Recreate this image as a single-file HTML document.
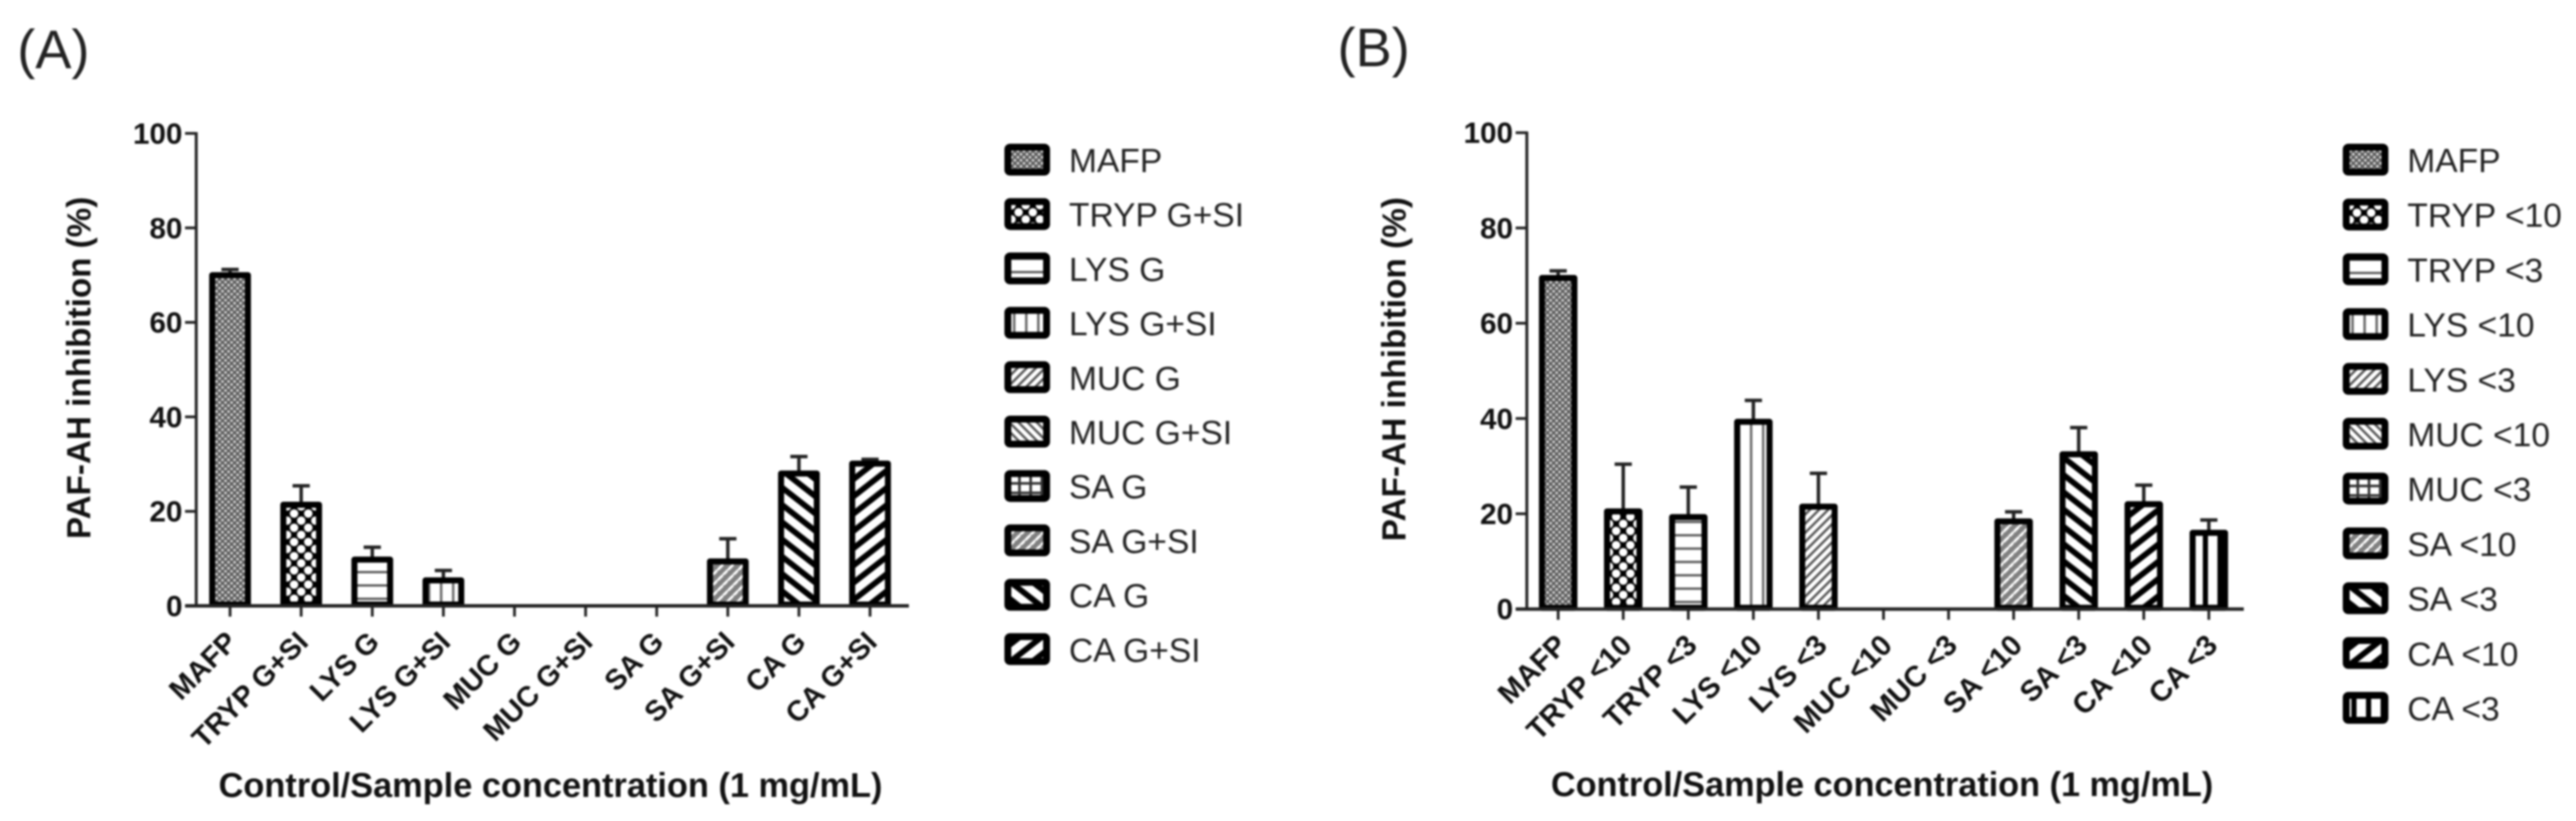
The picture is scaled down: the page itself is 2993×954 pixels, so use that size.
<!DOCTYPE html>
<html lang="en">
<head>
<meta charset="utf-8">
<title>PAF-AH inhibition charts</title>
<style>
html,body{margin:0;padding:0;background:#fff;width:2993px;height:954px;overflow:hidden}
svg{display:block;filter:blur(1.1px)}
text{font-family:"Liberation Sans",sans-serif}
.bold{font-weight:700;fill:#111}
.legend-text{font-size:39px;fill:#222}
</style>
</head>
<body>
<svg id="figure" xmlns="http://www.w3.org/2000/svg" width="2993" height="954" viewBox="0 0 2993 954">
<defs>
<pattern id="pat-fine-dots" patternUnits="userSpaceOnUse" width="7" height="7"><rect width="7" height="7" fill="#5e5e5e"/><circle cx="1.75" cy="1.75" r="1.5" fill="#e4e4e4"/><circle cx="5.25" cy="5.25" r="1.5" fill="#e4e4e4"/></pattern>
<pattern id="pat-checker" patternUnits="userSpaceOnUse" width="16.5" height="16.5"><rect width="16.5" height="16.5" fill="#000"/><circle cx="0" cy="0" r="4.9" fill="#fff"/><circle cx="16.5" cy="0" r="4.9" fill="#fff"/><circle cx="0" cy="16.5" r="4.9" fill="#fff"/><circle cx="16.5" cy="16.5" r="4.9" fill="#fff"/><circle cx="8.25" cy="8.25" r="4.9" fill="#fff"/></pattern>
<pattern id="pat-hlines" patternUnits="userSpaceOnUse" width="10" height="15.5"><rect width="10" height="15.5" fill="#fff"/><rect y="6" width="10" height="2.6" fill="#555"/></pattern>
<pattern id="pat-vlines" patternUnits="userSpaceOnUse" width="14" height="10" x="-4"><rect width="14" height="10" fill="#fff"/><rect x="0" width="2.8" height="10" fill="#666"/></pattern>
<pattern id="pat-diag-up" patternUnits="userSpaceOnUse" width="7.5" height="7.5" patternTransform="rotate(-45)"><rect width="7.5" height="7.5" fill="#fff"/><rect width="7.5" height="2.8" fill="#555"/></pattern>
<pattern id="pat-diag-down" patternUnits="userSpaceOnUse" width="7.5" height="7.5" patternTransform="rotate(45)"><rect width="7.5" height="7.5" fill="#fff"/><rect width="7.5" height="2.8" fill="#555"/></pattern>
<pattern id="pat-grid" patternUnits="userSpaceOnUse" width="13" height="11"><rect width="13" height="11" fill="#fff"/><rect x="3" width="3" height="11" fill="#333"/><rect y="3" width="13" height="3" fill="#333"/></pattern>
<pattern id="pat-dense" patternUnits="userSpaceOnUse" width="12" height="12"><rect width="12" height="12" fill="#808080"/><path d="M1 5.5L5.5 1M7 11.5L11.5 7" stroke="#fff" stroke-width="3" stroke-linecap="round"/></pattern>
<pattern id="pat-bold-down" patternUnits="userSpaceOnUse" width="15.8" height="15.8" patternTransform="rotate(38)"><rect width="15.8" height="15.8" fill="#000"/><rect y="2" width="15.8" height="9" fill="#fff"/></pattern>
<pattern id="pat-bold-up" patternUnits="userSpaceOnUse" width="15.8" height="15.8" patternTransform="rotate(-38)"><rect width="15.8" height="15.8" fill="#000"/><rect y="2" width="15.8" height="9" fill="#fff"/></pattern>
<pattern id="pat-bold-v" patternUnits="userSpaceOnUse" width="17" height="10" x="-7"><rect width="17" height="10" fill="#fff"/><rect x="0" width="6" height="10" fill="#000"/></pattern>
</defs>
<text x="20" y="79" font-size="63" fill="#222">(A)</text>
<text x="1554" y="77" font-size="63" fill="#222">(B)</text>
<text class="bold" font-size="38.6" text-anchor="middle" transform="translate(105,427.5) rotate(-90)">PAF-AH inhibition (%)</text>
<text class="bold" font-size="38.8" text-anchor="middle" transform="translate(1633,429) rotate(-90)">PAF-AH inhibition (%)</text>
<text class="bold" font-size="39.9" x="254" y="926">Control/Sample concentration (1 mg/mL)</text>
<text class="bold" font-size="39.8" x="1802" y="925">Control/Sample concentration (1 mg/mL)</text>
<g id="panel-a"></g>
<g id="panel-b"></g>
</svg>
<script>
const yTickLabels = [0, 20, 40, 60, 80, 100];

const panelACategories = ["MAFP", "TRYP G+SI", "LYS G", "LYS G+SI", "MUC G", "MUC G+SI", "SA G", "SA G+SI", "CA G", "CA G+SI"];
const panelAValues = [70, 21.4, 9.8, 5.4, 0, 0, 0, 9.4, 28, 30.1];
const panelAErrors = [1.2, 4, 2.6, 2.1, 0, 0, 0, 4.8, 3.6, 0.9];

const panelBCategories = ["MAFP", "TRYP <10", "TRYP <3", "LYS <10", "LYS <3", "MUC <10", "MUC <3", "SA <10", "SA <3", "CA <10", "CA <3"];
const panelBValues = [69.5, 20.5, 19.3, 39.3, 21.5, 0, 0, 18.4, 32.5, 22, 16];
const panelBErrors = [1.5, 9.9, 6.3, 4.5, 7, 0, 0, 2, 5.6, 4, 2.7];

const panelAFills = ["pat-fine-dots", "pat-checker", "pat-hlines", "pat-vlines", "pat-diag-up", "pat-diag-down", "pat-grid", "pat-dense", "pat-bold-down", "pat-bold-up"];
const panelBFills = ["pat-fine-dots", "pat-checker", "pat-hlines", "pat-vlines", "pat-diag-up", "pat-diag-down", "pat-grid", "pat-dense", "pat-bold-down", "pat-bold-up", "pat-bold-v"];

function xScaleA(i) { return 267.3 + i * 82.62; }
function yScaleA(v) { return 704 - v * 5.49; }
function xScaleB(i) { return 1810.4 + i * 75.6; }
function yScaleB(v) { return 707.7 - v * 5.535; }

const SVG_NS = "http://www.w3.org/2000/svg";
function make(tag, attrs, parent) {
  const el = document.createElementNS(SVG_NS, tag);
  for (const k in attrs) el.setAttribute(k, attrs[k]);
  parent.appendChild(el);
  return el;
}
function slug(s) {
  return s.toLowerCase().replace(/\+/g, "-plus-").replace(/</g, "under-").replace(/[^a-z0-9-]+/g, "-");
}

function drawPanel(root, prefix, cats, vals, errs, fills, xs, ys, o) {
  const y0 = ys(0);
  const half = o.barW / 2;

  cats.forEach(function (cat, i) {
    const cx = xs(i);
    const id = slug(cat);
    const tick = make("line", { x1: cx, x2: cx, y1: y0, y2: y0 + 12.5, stroke: "#222", "stroke-width": 3.2 }, root);
    
    

    const label = make("text", { "class": "bold", "font-size": o.catSize, "text-anchor": "end", transform: "translate(" + (cx + o.catDx) + "," + (y0 + o.catDy) + ") rotate(-45)" }, root);
    
    
    label.textContent = cat;

    if (errs[i] > 0) {
      const top = ys(vals[i] + errs[i]);
      const stem = make("line", { x1: cx, x2: cx, y1: ys(vals[i]), y2: top, stroke: "#222", "stroke-width": 4 }, root);
      
      
      const cap = make("line", { x1: cx - 10, x2: cx + 10, y1: top, y2: top, stroke: "#222", "stroke-width": 4 }, root);
      
      
    }

    if (vals[i] > 0) {
      const g = make("g", { transform: "translate(" + cx + "," + y0 + ")" }, root);
      const barTop = ys(vals[i]) - y0;
      const bar = make("rect", { x: -half + 3.5, y: barTop, width: o.barW - 7, height: -barTop - 1.5, fill: "url(#" + fills[i] + ")", stroke: "#000", "stroke-width": 7, "stroke-linejoin": "round" }, g);
      
      
    }

    const rowY = o.legendTop + i * o.legendStep;
    const sw = make("g", { transform: "translate(" + o.legendX + "," + rowY + ")" }, root);
    const swatch = make("rect", { x: 4, y: 4, width: 45, height: 29, rx: 2.5, fill: "url(#" + fills[i] + ")", stroke: "#000", "stroke-width": 8, "stroke-linejoin": "round" }, sw);
    
    
    const lt = make("text", { "class": "legend-text", x: o.legendX + 75, y: rowY + 33 }, root);
    
    
    lt.textContent = cat;
  });

  yTickLabels.forEach(function (t) {
    const y = ys(t);
    const tk = make("line", { x1: o.axisX - 13, x2: o.axisX, y1: y, y2: y, stroke: "#222", "stroke-width": 3.2 }, root);
    
    
    const tl = make("text", { "class": "bold", "font-size": 34.5, "text-anchor": "end", x: o.axisX - 16, y: y + 12 }, root);
    
    
    tl.textContent = t;
  });

  const yAxis = make("line", { x1: o.axisX, x2: o.axisX, y1: ys(100) - 1.5, y2: y0, stroke: "#222", "stroke-width": 3.4 }, root);
  
  
  const xAxis = make("line", { x1: o.axisX - 13, x2: o.axisEnd, y1: y0, y2: y0, stroke: "#222", "stroke-width": 4 }, root);
  
  
}

drawPanel(document.getElementById("panel-a"), "panel-a", panelACategories, panelAValues, panelAErrors, panelAFills, xScaleA, yScaleA,
  { barW: 48.5, axisX: 228, axisEnd: 1056, catSize: 33.5, catDx: 10, catDy: 44, legendX: 1167, legendTop: 167, legendStep: 63.2 });
drawPanel(document.getElementById("panel-b"), "panel-b", panelBCategories, panelBValues, panelBErrors, panelBFills, xScaleB, yScaleB,
  { barW: 44.7, axisX: 1774, axisEnd: 2607, catSize: 34, catDx: 12, catDy: 44, legendX: 2722, legendTop: 167, legendStep: 63.7 });
</script>
</body>
</html>
